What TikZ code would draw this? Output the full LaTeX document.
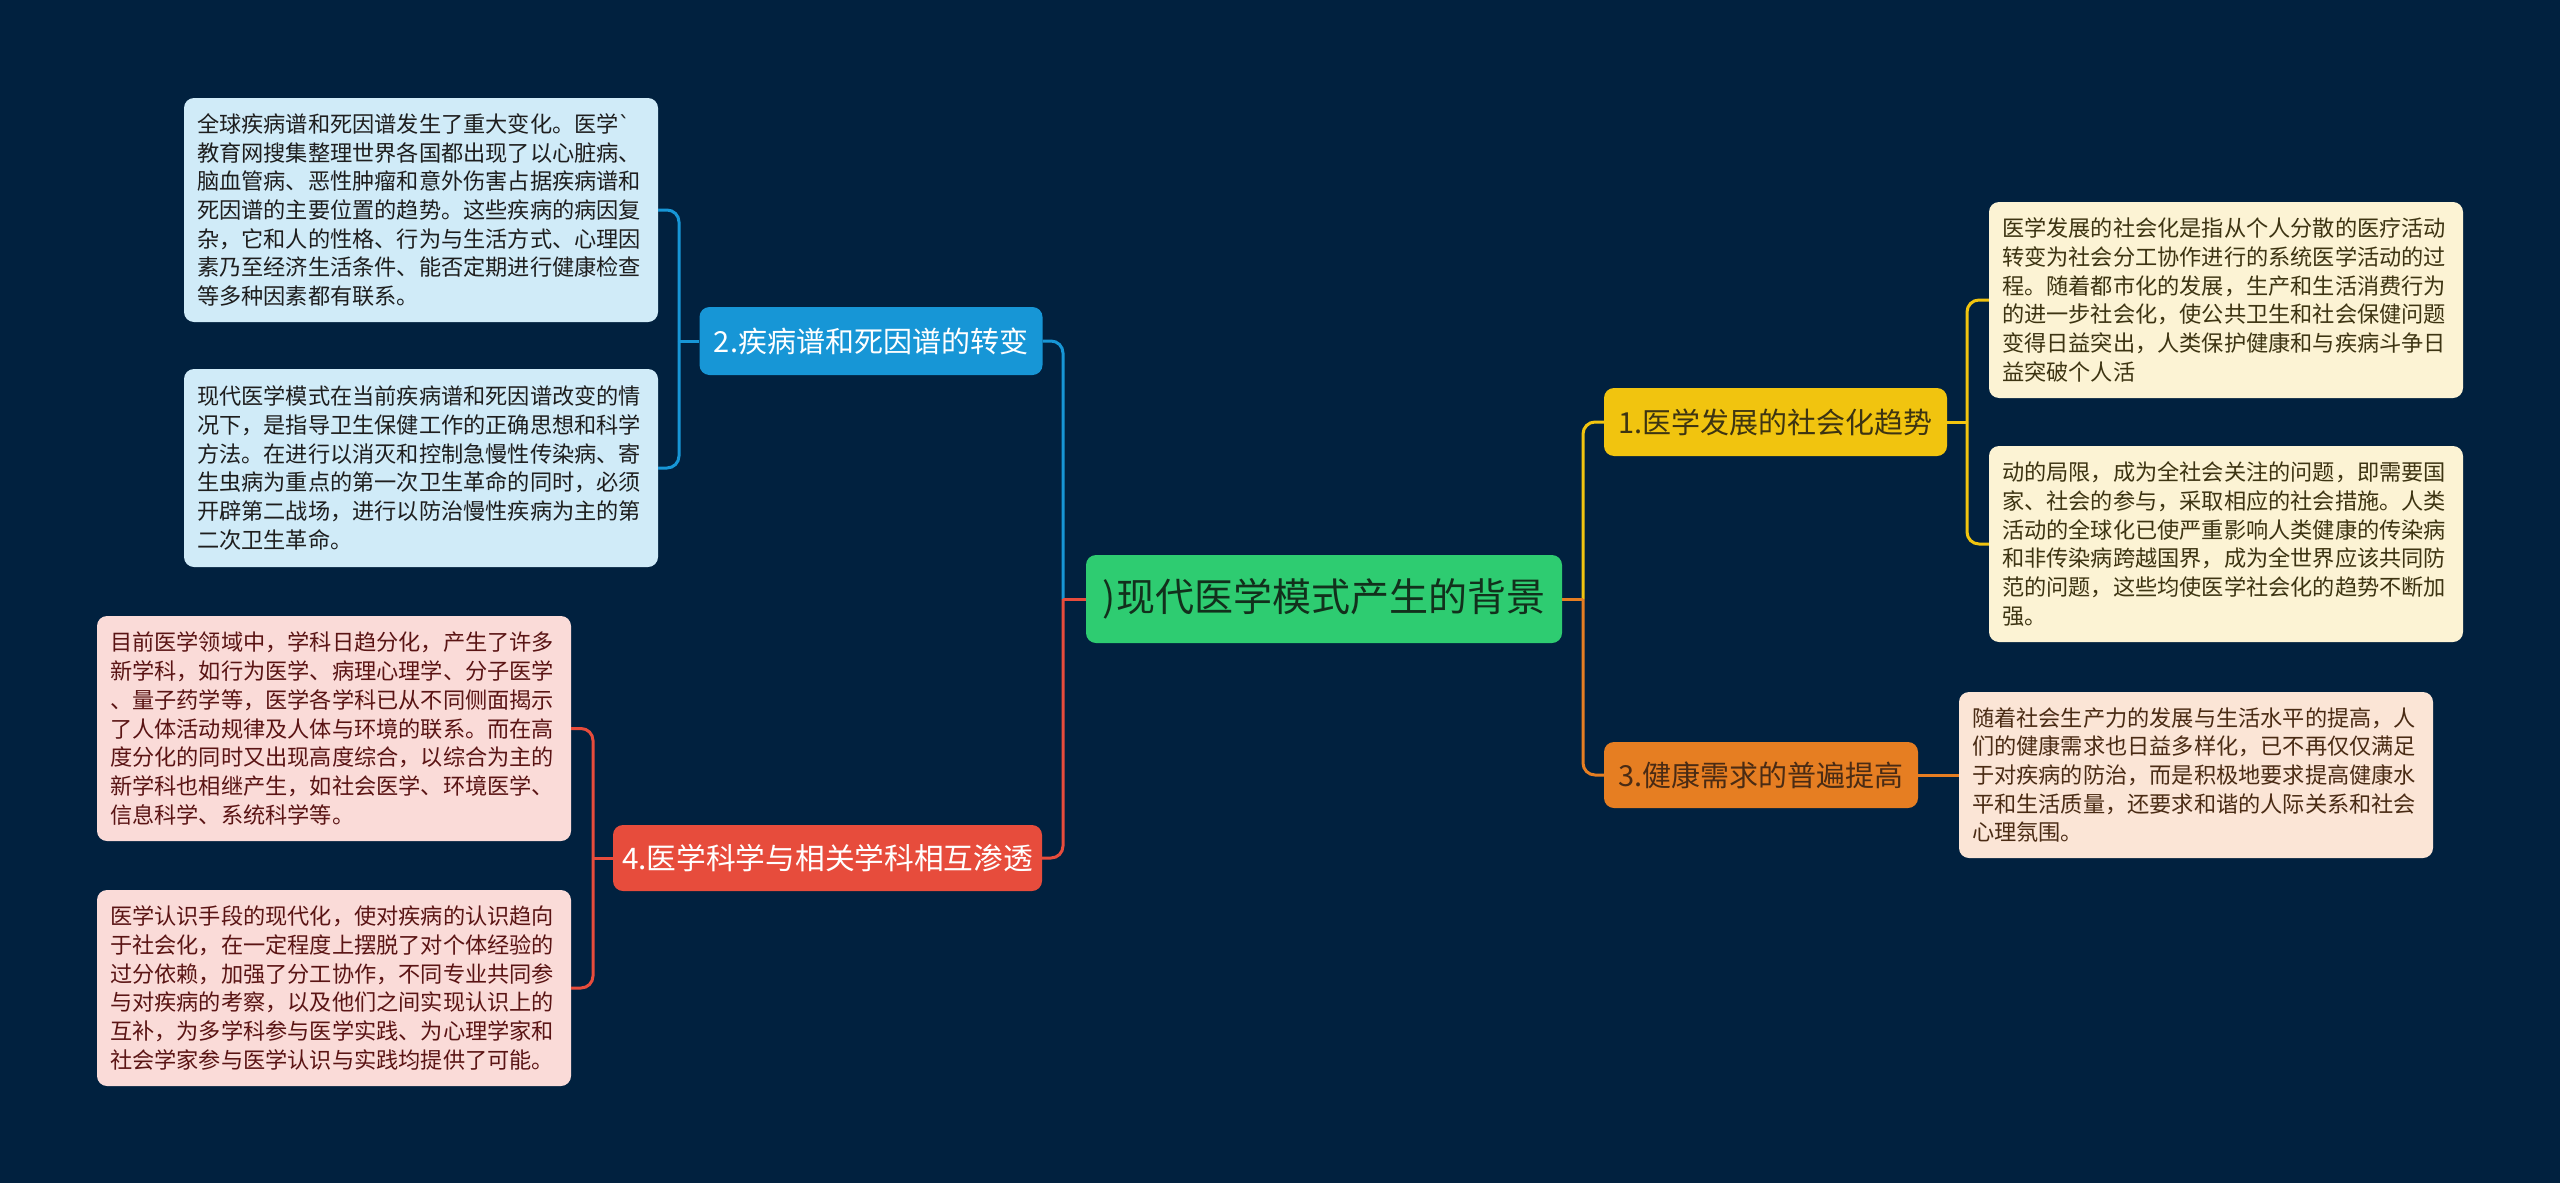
\documentclass[tikz,border=0pt]{standalone}
\usepackage{fontspec}
\setmainfont{Noto Sans CJK SC}
\newfontfamily\gravefont{DejaVu Sans}
\definecolor{bg}{HTML}{01213F}
\definecolor{cblue}{HTML}{1796D6}
\definecolor{cred}{HTML}{E74C3C}
\definecolor{cyel}{HTML}{F1C40F}
\definecolor{corg}{HTML}{E67E22}
\definecolor{cgreen}{HTML}{2ECC71}
\definecolor{fblue}{HTML}{D0EBF8}
\definecolor{fred}{HTML}{FADBD8}
\definecolor{fyel}{HTML}{FCF3D4}
\definecolor{forg}{HTML}{FBE5D6}
\definecolor{tblue}{HTML}{1E1E1E}
\definecolor{tred}{HTML}{5A1414}
\definecolor{tyel}{HTML}{3D3412}
\definecolor{torg}{HTML}{4A2B14}
\definecolor{troot}{HTML}{12301C}
\tikzset{
  rootbox/.style={fill=cgreen, rounded corners=10pt, inner sep=0pt, minimum width=476pt, minimum height=88pt, text=troot, font=\fontsize{39}{46}\selectfont},
  branchbox/.style={rounded corners=10pt, inner sep=0pt, font=\fontsize{29}{34}\selectfont},
  leafbox/.style={rounded corners=10pt, inner xsep=13pt, inner ysep=0pt, minimum width=474pt, text width=448pt, align=left, font=\fontsize{22.2}{28.7}\selectfont},
  conn/.style={line width=3pt, rounded corners=12pt},
  stub/.style={line width=3pt}
}
\begin{document}
\begin{tikzpicture}[x=1pt,y=-1pt]
\fill[bg] (0,0) rectangle (2560,1183);
\useasboundingbox (0,0) rectangle (2560,1183);

% root
\node[rootbox] (root) at (1324,599) {)现代医学模式产生的背景};

% branches
\node[branchbox, fill=cblue, text=white, minimum width=343pt, minimum height=68pt] (b2) at (871,341) {2.疾病谱和死因谱的转变};
\node[branchbox, fill=cred, text=white, minimum width=429pt, minimum height=66pt, font=\fontsize{29.7}{35}\selectfont] (b4) at (827.5,858) {4.医学科学与相关学科相互渗透};
\node[branchbox, fill=cyel, text=tyel, minimum width=343pt, minimum height=68pt] (b1) at (1775.5,422) {1.医学发展的社会化趋势};
\node[branchbox, fill=corg, text=torg, minimum width=314pt, minimum height=66pt] (b3) at (1761,775) {3.健康需求的普遍提高};

% leaves
\node[leafbox, fill=fblue, text=tblue, minimum height=224pt] (l21) at (421,210) {全球疾病谱和死因谱发生了重大变化。医学{\gravefont\char96}\\教育网搜集整理世界各国都出现了以心脏病、\\脑血管病、恶性肿瘤和意外伤害占据疾病谱和\\死因谱的主要位置的趋势。这些疾病的病因复\\杂，它和人的性格、行为与生活方式、心理因\\素乃至经济生活条件、能否定期进行健康检查\\等多种因素都有联系。};
\node[leafbox, fill=fblue, text=tblue, minimum height=198pt] (l22) at (421,468) {现代医学模式在当前疾病谱和死因谱改变的情\\况下，是指导卫生保健工作的正确思想和科学\\方法。在进行以消灭和控制急慢性传染病、寄\\生虫病为重点的第一次卫生革命的同时，必须\\开辟第二战场，进行以防治慢性疾病为主的第\\二次卫生革命。};
\node[leafbox, fill=fred, text=tred, minimum height=225pt] (l41) at (334,728.5) {目前医学领域中，学科日趋分化，产生了许多\\新学科，如行为医学、病理心理学、分子医学\\、量子药学等，医学各学科已从不同侧面揭示\\了人体活动规律及人体与环境的联系。而在高\\度分化的同时又出现高度综合，以综合为主的\\新学科也相继产生，如社会医学、环境医学、\\信息科学、系统科学等。};
\node[leafbox, fill=fred, text=tred, minimum height=196pt] (l42) at (334,988) {医学认识手段的现代化，使对疾病的认识趋向\\于社会化，在一定程度上摆脱了对个体经验的\\过分依赖，加强了分工协作，不同专业共同参\\与对疾病的考察，以及他们之间实现认识上的\\互补，为多学科参与医学实践、为心理学家和\\社会学家参与医学认识与实践均提供了可能。};
\node[leafbox, fill=fyel, text=tyel, minimum height=196pt] (l11) at (2226,300) {医学发展的社会化是指从个人分散的医疗活动\\转变为社会分工协作进行的系统医学活动的过\\程。随着都市化的发展，生产和生活消费行为\\的进一步社会化，使公共卫生和社会保健问题\\变得日益突出，人类保护健康和与疾病斗争日\\益突破个人活};
\node[leafbox, fill=fyel, text=tyel, minimum height=196pt] (l12) at (2226,544) {动的局限，成为全社会关注的问题，即需要国\\家、社会的参与，采取相应的社会措施。人类\\活动的全球化已使严重影响人类健康的传染病\\和非传染病跨越国界，成为全世界应该共同防\\范的问题，这些均使医学社会化的趋势不断加\\强。};
\node[leafbox, fill=forg, text=torg, minimum height=166pt] (l31) at (2196,775) {随着社会生产力的发展与生活水平的提高，人\\们的健康需求也日益多样化，已不再仅仅满足\\于对疾病的防治，而是积极地要求提高健康水\\平和生活质量，还要求和谐的人际关系和社会\\心理氛围。};

% junctions
\coordinate (jL) at (1063,599);
\coordinate (jR) at (1583,599);
\coordinate (jB) at (679,341);
\coordinate (jRd) at (593,858);
\coordinate (jY) at (1967,422);

% root to branches
\draw[conn, cblue] (b2.east) -| (jL);
\draw[conn, cred] (b4.east) -| (jL);
\draw[stub, cred] (jL) -- (root.west);
\draw[conn, cyel] (b1.west) -| (jR);
\draw[conn, corg] (b3.west) -| (jR);
\draw[stub, corg] (jR) -- (root.east);

% branches to leaves
\draw[conn, cblue] (l21.east) -| (jB);
\draw[conn, cblue] (l22.east) -| (jB);
\draw[stub, cblue] (jB) -- (b2.west);
\draw[conn, cred] (l41.east) -| (jRd);
\draw[conn, cred] (l42.east) -| (jRd);
\draw[stub, cred] (jRd) -- (b4.west);
\draw[conn, cyel] (l11.west) -| (jY);
\draw[conn, cyel] (l12.west) -| (jY);
\draw[stub, cyel] (jY) -- (b1.east);
\draw[stub, corg] (b3.east) -- (l31.west);
\end{tikzpicture}
\end{document}
